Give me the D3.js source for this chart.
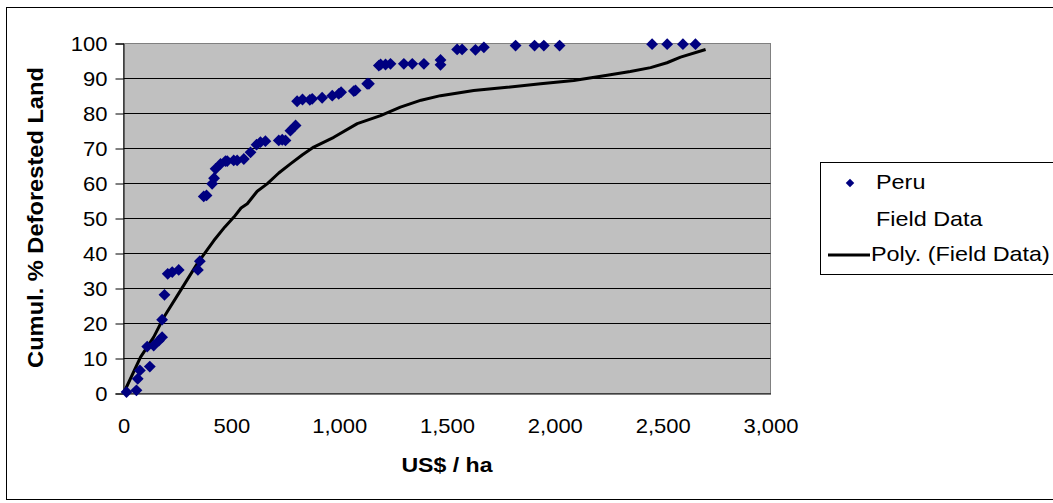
<!DOCTYPE html>
<html>
<head>
<meta charset="utf-8">
<script src="https://cdn.jsdelivr.net/npm/d3@7"></script>
<style>
  html, body { margin: 0; padding: 0; background: #fff; }
  svg { display: block; }
  text { font-family: "Liberation Sans", Arial, sans-serif; fill: #000; }
</style>
</head>
<body>
<svg id="chart" width="1053" height="503"></svg>
<script>
// Peru field observations: land price (US$/ha) vs cumulative % of deforested land
const peruX = [14, 60, 66, 76, 122, 110, 140, 164, 179, 179, 190, 205, 226, 256, 345, 354,
  372, 385, 411, 420, 427, 450, 473, 481, 511, 527, 558, 589, 617, 635, 658, 720, 736, 751,
  774, 798, 805, 830, 864, 875, 921, 968, 998, 1009, 1068, 1076, 1130, 1138, 1184, 1192,
  1215, 1238, 1300, 1339, 1393, 1470, 1470, 1547, 1570, 1632, 1671, 1818, 1906, 1949, 2022,
  2451, 2521, 2594, 2652];
const peruY = [0.4, 0.9, 4.2, 6.6, 7.7, 13.4, 13.7, 15.1, 16.1, 21.1, 28.2, 34.2, 34.7, 35.3, 35.3, 37.8,
  56.3, 56.6, 59.9, 61.5, 64.2, 65.6, 66.4, 66.4, 66.6, 66.6, 67.0, 68.9, 71.1, 71.8, 72.1, 72.3, 72.5, 72.3,
  75.1, 76.6, 83.5, 84.0, 83.9, 84.2, 84.5, 85.1, 85.6, 86.1, 86.4, 86.6, 88.5, 88.5, 93.7, 94.0,
  94.0, 94.2, 94.2, 94.2, 94.2, 95.3, 93.9, 98.3, 98.3, 98.2, 98.9, 99.4, 99.4, 99.4, 99.4,
  99.8, 99.8, 99.8, 99.8];

// Polynomial trendline of the field data, read as a polyline
const trendX = [0, 79, 140, 187, 264, 342, 419, 470, 512, 545, 574, 620, 666, 720, 774, 830, 882, 975,
  1084, 1192, 1284, 1380, 1470, 1624, 1779, 1934, 2088, 2243, 2350, 2444, 2520, 2583, 2699];
const trendY = [0, 10.4, 16.1, 21.8, 29.4, 37.1, 43.7, 47.6, 50.4, 53.0, 54.2, 57.8, 59.9, 63.0, 65.6, 68.2, 70.4, 73.2,
  77.1, 79.4, 81.8, 83.8, 85.1, 86.6, 87.5, 88.5, 89.4, 90.9, 92.0, 93.1, 94.5, 96.1, 98.3];

const xTicks = [0, 500, 1000, 1500, 2000, 2500, 3000];
const yTicks = [0, 10, 20, 30, 40, 50, 60, 70, 80, 90, 100];
const legendLabels = ["Peru", "Field Data", "Poly. (Field Data)"];
const xTitle = "US$ / ha";
const yTitle = "Cumul. % Deforested Land";

const svg = d3.select("#chart");
const plot = { left: 123, right: 770, top: 43, bottom: 393 };

const x = d3.scaleLinear().domain([0, 3000]).range([plot.left + 0.5, plot.right + 0.5]);
const y = d3.scaleLinear().domain([0, 100]).range([plot.bottom + 0.5, plot.top + 0.5]);

// Chart area frame
svg.append("rect")
  .attr("x", 6.5).attr("y", 7.5)
  .attr("width", 1100).attr("height", 492)
  .attr("fill", "#fff").attr("stroke", "#000").attr("stroke-width", 1);

// Plot area
svg.append("rect")
  .attr("x", x(0)).attr("y", y(100))
  .attr("width", x(3000) - x(0)).attr("height", y(0) - y(100))
  .attr("fill", "#c0c0c0").attr("stroke", "#808080").attr("stroke-width", 1);

// Horizontal gridlines
svg.append("g")
  .selectAll("line")
  .data(yTicks.filter(v => v > 0 && v < 100))
  .join("line")
  .attr("x1", x(0)).attr("x2", x(3000))
  .attr("y1", d => y(d)).attr("y2", d => y(d))
  .attr("stroke", "#000").attr("stroke-width", 1);

const tickScale = 1.1;

// Y axis
const yAxis = svg.append("g")
  .attr("transform", `translate(${x(0)},0)`)
  .call(d3.axisLeft(y).tickValues(yTicks).tickSize(8).tickPadding(0).tickFormat(d3.format("d")));
yAxis.select(".domain").attr("stroke", "#000");
yAxis.selectAll(".tick line").attr("stroke", "#000");
yAxis.selectAll(".tick text")
  .attr("font-size", 20)
  .attr("font-family", "Liberation Sans, Arial, sans-serif")
  .attr("x", -16 / tickScale)
  .attr("dy", "0.35em")
  .attr("transform", `scale(${tickScale},1)`);

// X axis
const xAxis = svg.append("g")
  .attr("transform", `translate(0,${y(0)})`)
  .call(d3.axisBottom(x).tickValues(xTicks).tickSize(0).tickFormat(d3.format(",")));
xAxis.select(".domain").attr("stroke", "#000");
xAxis.selectAll(".tick text")
  .attr("font-size", 20)
  .attr("font-family", "Liberation Sans, Arial, sans-serif")
  .attr("y", 39.5)
  .attr("dy", 0)
  .attr("transform", `scale(${tickScale},1)`);

// Axis titles
svg.append("text")
  .attr("transform", `translate(${(x(0) + x(3000)) / 2},471.5) scale(1.1,1)`)
  .attr("text-anchor", "middle")
  .attr("font-size", 21).attr("font-weight", "bold")
  .text(xTitle);

svg.append("text")
  .attr("transform", `translate(43,217.5) rotate(-90) scale(1.075,1)`)
  .attr("text-anchor", "middle")
  .attr("font-size", 22).attr("font-weight", "bold")
  .text(yTitle);

// Trendline
const trendPts = trendX.map((v, i) => [v, trendY[i]]);
svg.append("path")
  .datum(trendPts)
  .attr("d", d3.line().x(d => x(d[0])).y(d => y(d[1])))
  .attr("fill", "none").attr("stroke", "#000").attr("stroke-width", 3)
  .attr("stroke-linejoin", "round").attr("stroke-linecap", "butt");

// Peru markers (diamonds)
const diamond = d3.symbol().type(d3.symbolSquare).size(70);
const peruPts = peruX.map((v, i) => [v, peruY[i]]);
svg.append("g")
  .selectAll("path")
  .data(peruPts)
  .join("path")
  .attr("d", diamond)
  .attr("transform", d => `translate(${x(d[0])},${y(d[1])}) rotate(45)`)
  .attr("fill", "#000080");

// Legend
const lg = svg.append("g");
lg.append("rect")
  .attr("x", 820.5).attr("y", 162.5)
  .attr("width", 300).attr("height", 112)
  .attr("fill", "#fff").attr("stroke", "#000").attr("stroke-width", 1);

const legendBase = [189, 226, 261];
const legendScale = 1.17;
lg.append("path")
  .attr("d", d3.symbol().type(d3.symbolSquare).size(36))
  .attr("transform", `translate(850,${legendBase[0] - 6}) rotate(45)`)
  .attr("fill", "#000080");
lg.append("line")
  .attr("x1", 828).attr("x2", 870)
  .attr("y1", legendBase[2] - 6).attr("y2", legendBase[2] - 6)
  .attr("stroke", "#000").attr("stroke-width", 3);
lg.selectAll("text")
  .data(legendLabels)
  .join("text")
  .attr("transform", (d, i) => `translate(${i === 2 ? 871 : 876},${legendBase[i]}) scale(${legendScale},1)`)
  .attr("font-size", 20)
  .text(d => d);
</script>
</body>
</html>
